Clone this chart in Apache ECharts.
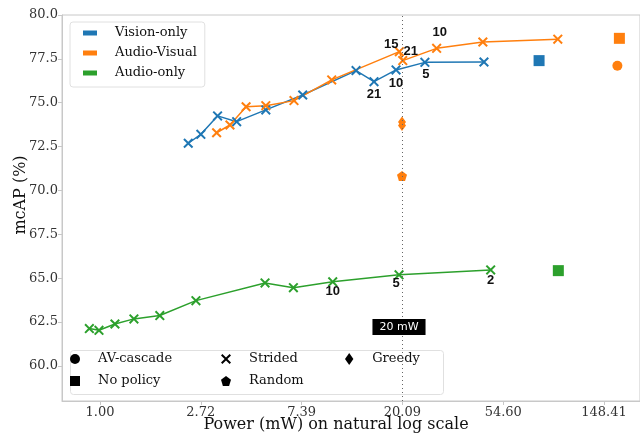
<!DOCTYPE html>
<html>
<head>
<meta charset="utf-8">
<script src="https://cdn.jsdelivr.net/npm/echarts@6/dist/echarts.min.js"></script>
<style>
  html, body { margin: 0; padding: 0; background: #fff; }
  #chart { width: 640px; height: 437px; }
</style>
</head>
<body>
<div id="chart"></div>
<script>
// Strided curves: power (mW), mcAP (%), and the stride tag shown next to a few points
const visionPower = [2.40, 2.72, 3.21, 3.88, 5.18, 7.47, 12.68, 15.15, 18.85, 25.1, 45.1];
const visionMap = [72.69, 73.20, 74.25, 73.92, 74.59, 75.44, 76.83, 76.20, 76.87, 77.30, 77.32];
const visionTags = ['', '', '', '', '', '', '', '21', '10', '5', ''];

const avPower = [3.18, 3.63, 4.26, 5.18, 6.85, 9.96, 19.48, 20.15, 28.2, 44.6, 93.8];
const avMap = [73.29, 73.73, 74.77, 74.83, 75.12, 76.30, 77.91, 77.40, 78.10, 78.46, 78.62];
const avTags = ['', '', '', '', '', '', '15', '21', '10', '', ''];

const audioPower = [0.90, 0.99, 1.16, 1.40, 1.81, 2.59, 5.14, 6.81, 10.06, 19.42, 48.2];
const audioMap = [62.13, 62.03, 62.39, 62.68, 62.87, 63.72, 64.73, 64.46, 64.79, 65.19, 65.47];
const audioTags = ['', '', '', '', '', '', '', '', '10', '5', '2'];

// single policies: [power, mcAP]
const noPolicyVision = [77.9, 77.40];
const noPolicyAV = [172.8, 78.67];
const noPolicyAudio = [94.3, 65.43];
const cascadeAV = [169.4, 77.11];
const greedyAV = [[20.0, 73.9], [20.0, 73.7]];
const randomAV = [[20.0, 70.83]];

const budget = 20; // mW
const budgetNoteY = 62.22;

// y range of the plot and the range that carries tick labels
const yMin = 58, yMax = 80, yTickMin = 60, yStep = 2.5;

const C_BLUE = '#1f77b4', C_ORANGE = '#ff7f0e', C_GREEN = '#2ca02c';
const SERIF = 'DejaVu Serif';
const X_PATH = 'path://M0,1.4L1.4,0L5,3.6L8.6,0L10,1.4L6.4,5L10,8.6L8.6,10L5,6.4L1.4,10L0,8.6L3.6,5Z';
const PENT_PATH = 'path://M5,0L10,3.8L8.1,10L1.9,10L0,3.8Z';
const DIAM_PATH = 'path://M3.5,0L7,5L3.5,10L0,5Z';
const SQ_PATH = 'path://M0,0L10,0L10,10L0,10Z';

// label offsets for the tagged points, in order of appearance
const tagOffsets = {
  vision: [[0, 13], [0, 14], [1, 12]],
  av: [[-8, -7], [8, -9], [3, -16]],
  audio: [[0, 10], [-3, 9], [0, 10]]
};

function buildLine(power, map, tags, offsets) {
  let k = 0;
  return power.map((p, i) => {
    const item = { value: [p, map[i]] };
    if (tags[i]) {
      const off = offsets[k++];
      item.label = {
        show: true, formatter: tags[i], position: 'inside', offset: off,
        color: '#111', fontFamily: 'Liberation Sans', fontWeight: 'bold', fontSize: 13
      };
    }
    return item;
  });
}

function strided(name, color, data) {
  return {
    name: name, type: 'line', data: data,
    symbol: X_PATH, symbolSize: 10, showSymbol: true,
    lineStyle: { color: color, width: 1.5 },
    itemStyle: { color: color, borderWidth: 0, opacity: 1 },
    emphasis: { disabled: true },
    z: 3
  };
}

function marker(name, color, symbol, size, data) {
  return {
    name: name, type: 'scatter', data: data,
    symbol: symbol, symbolSize: size,
    itemStyle: { color: color, opacity: 1 },
    emphasis: { disabled: true },
    z: 4
  };
}

const chart = echarts.init(document.getElementById('chart'));

const tickLabel = { fontFamily: SERIF, fontSize: 13, color: '#333' };
const plotTop = 15, plotBottom = 401, plotLeft = 62;
const pxPerUnit = (plotBottom - plotTop) / (yMax - yMin);
const labelGridBottom = 437 - (plotBottom - (yTickMin - yMin) * pxPerUnit);

chart.setOption({
  animation: false,
  grid: [
    { left: plotLeft, right: 0, top: plotTop, bottom: 437 - plotBottom, show: true,
      borderColor: '#c8c8c8', borderWidth: 1, outerBoundsMode: 'none', containLabel: false },
    // twin grid used only for the y tick labels (60.0 .. 80.0)
    { left: plotLeft, right: 0, top: plotTop, bottom: labelGridBottom, show: false,
      outerBoundsMode: 'none', containLabel: false }
  ],
  xAxis: [
    {
      type: 'log', logBase: Math.E, gridIndex: 0,
      min: 0.686, max: 212,
      name: 'Power (mW) on natural log scale', nameLocation: 'middle', nameGap: 16,
      nameMoveOverlap: false,
      nameTextStyle: { fontFamily: SERIF, fontSize: 16, color: '#111', padding: [0, 30, 0, 0] },
      axisLine: { show: true, lineStyle: { color: '#c8c8c8' } },
      axisTick: { show: true, length: 4, lineStyle: { color: '#c8c8c8' } },
      axisLabel: Object.assign({ margin: 5, showMinLabel: false, showMaxLabel: false,
        formatter: v => v.toFixed(2) }, tickLabel),
      splitLine: { show: false }, minorTick: { show: false }
    },
    { type: 'value', gridIndex: 1, show: false, min: 0, max: 1 }
  ],
  yAxis: [
    {
      type: 'value', gridIndex: 0, min: yMin, max: yMax,
      name: 'mcAP (%)', nameLocation: 'middle', nameGap: 33,
      nameTextStyle: { fontFamily: SERIF, fontSize: 16, color: '#111', padding: [0, 0, 0, 26] },
      axisLine: { show: true, lineStyle: { color: '#c8c8c8' } },
      axisTick: { show: false }, axisLabel: { show: false },
      splitLine: { show: false }
    },
    {
      type: 'value', gridIndex: 1, min: yTickMin, max: yMax, interval: yStep,
      axisLine: { show: false },
      axisTick: { show: true, length: 4, lineStyle: { color: '#c8c8c8' } },
      axisLabel: Object.assign({ margin: 4, formatter: v => v.toFixed(1) }, tickLabel),
      splitLine: { show: false }
    }
  ],
  legend: [
    {
      data: ['Vision-only', 'Audio-Visual', 'Audio-only'],
      orient: 'vertical', left: 70, top: 22,
      icon: 'rect', itemWidth: 14, itemHeight: 5, itemGap: 4,
      padding: [3, 8, 6, 13],
      borderColor: '#e0e0e0', borderWidth: 1, borderRadius: 3, backgroundColor: 'rgba(255,255,255,0.85)',
      textStyle: { fontFamily: SERIF, fontSize: 13, color: '#111', lineHeight: 16, padding: [0, 0, 0, 13] },
      selectedMode: false
    },
    {
      data: [{ name: 'AV-cascade', icon: 'circle' }, { name: 'No policy', icon: SQ_PATH }],
      orient: 'vertical', left: 70, top: 351, padding: 0,
      itemWidth: 36, itemHeight: 10, itemGap: 6,
      textStyle: { fontFamily: SERIF, fontSize: 13, color: '#111', lineHeight: 16 },
      selectedMode: false
    },
    {
      data: [{ name: 'Strided', icon: X_PATH }, { name: 'Random', icon: PENT_PATH }],
      orient: 'vertical', left: 221, top: 351, padding: 0,
      itemWidth: 36, itemHeight: 10, itemGap: 6,
      textStyle: { fontFamily: SERIF, fontSize: 13, color: '#111', lineHeight: 16 },
      selectedMode: false
    },
    {
      data: [{ name: 'Greedy', icon: DIAM_PATH }],
      orient: 'vertical', left: 345, top: 351, padding: 0,
      itemWidth: 36, itemHeight: 12, itemGap: 6,
      textStyle: { fontFamily: SERIF, fontSize: 13, color: '#111', lineHeight: 16 },
      selectedMode: false
    }
  ],
  graphic: [{
    type: 'rect', left: 70, top: 350, z: 1,
    shape: { width: 373, height: 44, r: 3 },
    style: { fill: 'rgba(255,255,255,0.85)', stroke: '#e0e0e0', lineWidth: 1 }
  }],
  series: [
    strided('Vision-only', C_BLUE, buildLine(visionPower, visionMap, visionTags, tagOffsets.vision)),
    strided('Audio-Visual', C_ORANGE, buildLine(avPower, avMap, avTags, tagOffsets.av)),
    strided('Audio-only', C_GREEN, buildLine(audioPower, audioMap, audioTags, tagOffsets.audio)),
    marker('vision-nopolicy', C_BLUE, 'rect', 11, [noPolicyVision]),
    marker('av-nopolicy', C_ORANGE, 'rect', 11, [noPolicyAV]),
    marker('audio-nopolicy', C_GREEN, 'rect', 11, [noPolicyAudio]),
    marker('av-cascade', C_ORANGE, 'circle', 10, [cascadeAV]),
    marker('av-greedy', C_ORANGE, DIAM_PATH, [8, 11], greedyAV),
    marker('av-random', C_ORANGE, PENT_PATH, 10, randomAV),
    // budget line and its tag
    {
      name: 'budget', type: 'scatter', data: [[budget, budgetNoteY]],
      symbolSize: 0, z: 6, itemStyle: { opacity: 1 },
      label: {
        show: true, position: 'inside', offset: [-3, 0], formatter: '20 mW',
        color: '#fff', backgroundColor: '#000', padding: [3, 7, 2, 7],
        fontFamily: 'DejaVu Sans', fontSize: 11
      },
      markLine: {
        silent: true, symbol: 'none', label: { show: false },
        lineStyle: { color: '#666', type: [1, 3], width: 1 },
        data: [{ xAxis: budget }]
      },
      emphasis: { disabled: true }
    },
    // legend-only entries for marker shapes
    marker('AV-cascade', '#000', 'circle', 10, []),
    marker('No policy', '#000', 'rect', 10, []),
    marker('Strided', '#000', X_PATH, 10, []),
    marker('Random', '#000', PENT_PATH, 10, []),
    marker('Greedy', '#000', DIAM_PATH, 10, [])
  ]
});
</script>
</body>
</html>
